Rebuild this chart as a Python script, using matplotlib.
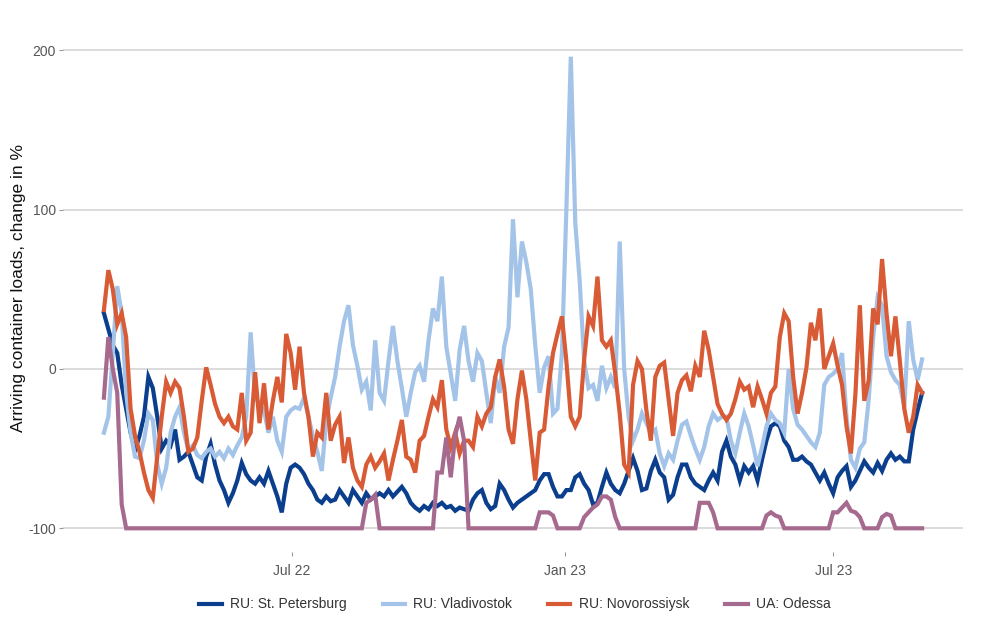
import matplotlib
matplotlib.use("Agg")
import matplotlib.pyplot as plt
import matplotlib.dates as mdates
import pandas as pd
import numpy as np

plt.rcParams['font.family'] = ['Liberation Sans', 'DejaVu Sans']

start_date = "2022-02-24"
step = "3D"

st_petersburg = [
    35, 25, 15, 10, -10, -25, -40, -51, -42, -30,
    -5, -12, -30, -50, -45, -48, -38, -57, -55, -52,
    -60, -68, -70, -55, -47, -60, -70, -76, -84, -78,
    -70, -59, -66, -70, -72, -68, -72, -64, -72, -80,
    -90, -72, -62, -60, -62, -66, -72, -76, -82, -84,
    -80, -83, -82, -76, -80, -84, -76, -80, -84, -78,
    -82, -80, -78, -80, -76, -80, -77, -74, -78, -84,
    -87, -89, -86, -88, -84, -86, -84, -87, -86, -89,
    -87, -88, -89, -82, -78, -76, -84, -88, -86, -72,
    -76, -82, -87, -84, -82, -80, -78, -76, -70, -66,
    -66, -74, -80, -80, -76, -76, -68, -66, -72, -76,
    -85, -84, -74, -65, -72, -76, -78, -72, -64, -56,
    -64, -76, -75, -64, -57, -65, -68, -82, -79, -68,
    -60, -60, -68, -72, -74, -76, -70, -65, -70, -52,
    -45, -55, -60, -70, -61, -65, -61, -70, -57, -45,
    -36, -34, -36, -45, -49, -57, -57, -55, -58, -60,
    -65, -70, -65, -72, -78, -68, -64, -61, -74, -70,
    -64, -58, -62, -65, -59, -64, -57, -53, -57, -55,
    -58, -58, -38, -26, -15,
]

vladivostok = [
    -40, -30, 10, 52, 35, -15, -40, -55, -56, -45,
    -28, -32, -60, -72, -62, -40, -30, -24, -40, -51,
    -48, -54, -56, -52, -50, -55, -52, -56, -50, -54,
    -48, -43, -30, 23, -18, -22, -26, -40, -30, -45,
    -52, -30, -26, -24, -25, -18, -30, -42, -52, -64,
    -32, -18, -5, 14, 30, 40, 15, 2, -13, -8,
    -26, 18, -15, -20, 5, 27, 5, -12, -30, -15,
    -2, 2, -8, 18, 38, 30, 58, 14, -3, -20,
    12, 27, 5, -8, 10, 5, -15, -34, -5, -15,
    14, 26, 94, 45, 80, 67, 50, 15, -15, 1,
    8, -28, -25, 10, 100, 196, 92, 55, 5, -12,
    -10, -20, 2, -12, -5, -12, 80, 0, -30, -45,
    -38, -28, -34, -40, -38, -53, -61, -53, -57, -45,
    -35, -33, -42, -50, -57, -49, -36, -28, -32, -30,
    -30, -45, -53, -40, -28, -36, -48, -61, -49, -36,
    -28, -32, -34, -40, 0, -25, -35, -38, -42, -46,
    -49, -40, -10, -5, -3, 0, 10, -30, -57, -62,
    -50, -46, -19, 20, 45, 40, 8, -2, -7, -10,
    -24, 30, 6, -7, 6,
]

novorossiysk = [
    37, 62, 50, 28, 35, 20, -25, -42, -52, -65,
    -76, -81, -55, -30, -8, -15, -8, -12, -30, -52,
    -50, -43, -20, 1, -10, -22, -30, -34, -30, -36,
    -38, -15, -45, -40, -2, -34, -9, -38, -20, -5,
    -21, 22, 10, -13, 14, -15, -30, -55, -40, -43,
    -15, -45, -35, -30, -59, -43, -62, -70, -74, -60,
    -55, -62, -58, -53, -70, -57, -45, -32, -55, -57,
    -65, -45, -42, -30, -19, -24, -7, -38, -49, -40,
    -53, -45, -45, -49, -30, -36, -28, -24, -5, 6,
    -11, -38, -47, -19, -1, -19, -45, -70, -40, -38,
    -11, 10, 22, 33, 5, -30, -36, -30, 6, 33,
    27, 58, 18, 14, 18, -3, -28, -60, -65, -10,
    5, 0, -26, -45, -5, 2, 4, -19, -42, -15,
    -7, -4, -14, 2, -5, 24, 12, -5, -22, -28,
    -32, -28, -19, -8, -13, -11, -24, -11, -19, -28,
    -15, -11, 20, 35, 30, -5, -28, -15, 1, 29,
    18, 38, 0, 8, 16, 2, -10, -36, -53, -16,
    40, -20, -7, 38, 28, 69, 35, 8, 33, 5,
    -25, -40, -30, -10, -15,
]

odessa = [
    -18, 20, 0, -15, -85, -100, -100, -100, -100, -100,
    -100, -100, -100, -100, -100, -100, -100, -100, -100, -100,
    -100, -100, -100, -100, -100, -100, -100, -100, -100, -100,
    -100, -100, -100, -100, -100, -100, -100, -100, -100, -100,
    -100, -100, -100, -100, -100, -100, -100, -100, -100, -100,
    -100, -100, -100, -100, -100, -100, -100, -100, -100, -84,
    -82, -79, -100, -100, -100, -100, -100, -100, -100, -100,
    -100, -100, -100, -100, -100, -65, -65, -43, -68, -42,
    -30, -45, -100, -100, -100, -100, -100, -100, -100, -100,
    -100, -100, -100, -100, -100, -100, -100, -100, -90, -90,
    -90, -92, -100, -100, -100, -100, -100, -100, -93, -90,
    -87, -85, -80, -80, -82, -93, -100, -100, -100, -100,
    -100, -100, -100, -100, -100, -100, -100, -100, -100, -100,
    -100, -100, -100, -100, -84, -84, -84, -90, -100, -100,
    -100, -100, -100, -100, -100, -100, -100, -100, -100, -92,
    -90, -92, -93, -100, -100, -100, -100, -100, -100, -100,
    -100, -100, -100, -100, -90, -90, -87, -84, -89, -90,
    -93, -100, -100, -100, -100, -93, -91, -92, -100, -100,
    -100, -100, -100, -100, -100,
]

series_names = ["RU: St. Petersburg", "RU: Vladivostok", "RU: Novorossiysk", "UA: Odessa"]
series_colors = ["#0b3f8e", "#a3c4e8", "#d85b36", "#a66a8f"]
series_values = [st_petersburg, vladivostok, novorossiysk, odessa]

y_ticks = [-100, 0, 100, 200]
x_tick_dates = ["2022-07-01", "2023-01-01", "2023-07-01"]
x_tick_labels = ["Jul 22", "Jan 23", "Jul 23"]
y_label = "Arriving container loads, change in %"

fig = plt.figure(figsize=(10, 6.25), dpi=100)
ax = fig.add_axes([0.063, 0.117, 0.900, 0.830])

for name, col, vals in zip(series_names, series_colors, series_values):
    dates = pd.date_range(start_date, periods=len(vals), freq=step)
    ax.plot(dates, vals, color=col, lw=3.0, label=name, solid_joinstyle="miter")

dates = pd.date_range(start_date, periods=len(st_petersburg), freq=step)
x0 = mdates.date2num(dates[0]); x1 = mdates.date2num(dates[-1])
pad = 0.05 * (x1 - x0)
ax.set_xlim(x0 - pad, x1 + pad)
ally = np.concatenate([np.array(v, dtype=float) for v in series_values])
ymin, ymax = ally.min(), ally.max()
ypad = 0.05 * (ymax - ymin)
ax.set_ylim(ymin - ypad, ymax + ypad)

ax.set_yticks(y_ticks)
ax.set_yticklabels([str(t) for t in y_ticks])
ax.set_xticks([mdates.date2num(pd.Timestamp(d)) for d in x_tick_dates])
ax.set_xticklabels(x_tick_labels)

ax.grid(axis="y", color="#d9d9d9", lw=1.3)
ax.grid(axis="x", visible=False)
ax.set_axisbelow(True)
for s in ax.spines.values():
    s.set_visible(False)
ax.tick_params(axis="both", length=3, width=0.8, color="#999999",
               labelcolor="#555555", labelsize=10, pad=2)
ax.tick_params(axis="x", pad=6)

fig.text(0.019, 0.539, y_label, rotation=90, ha="center", va="center",
         fontsize=12.5, color="#111111")

leg = ax.legend(loc="center", bbox_to_anchor=(0.515, 0.033),
                bbox_transform=fig.transFigure, ncol=4, frameon=False,
                fontsize=10, handlelength=1.6, handletextpad=0.6,
                columnspacing=2.6)
for t in leg.get_texts():
    t.set_color("#333333")
for h in leg.get_lines():
    h.set_linewidth(3)

fig.savefig("out.png", dpi=100, facecolor="white")
